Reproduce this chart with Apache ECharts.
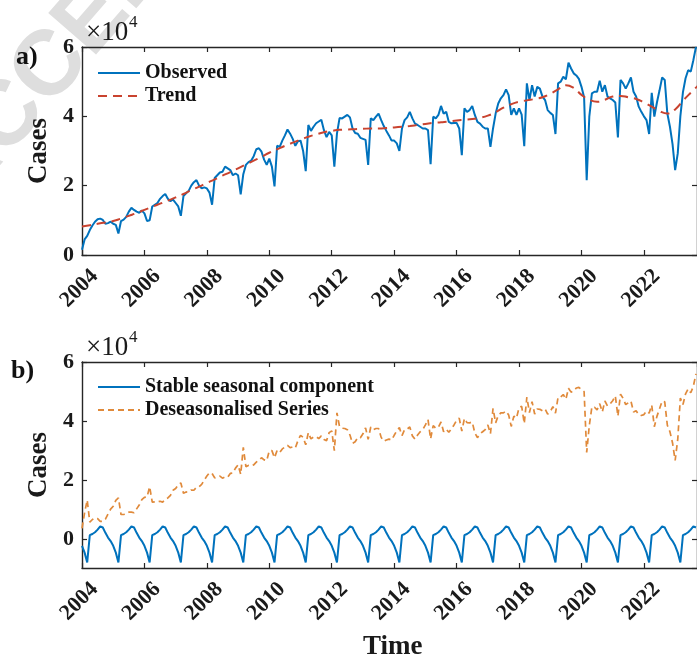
<!DOCTYPE html>
<html><head><meta charset="utf-8">
<script src="https://cdn.jsdelivr.net/npm/echarts@6/dist/echarts.min.js"></script>
<style>html,body{margin:0;padding:0;background:#fff}#c{width:697px;height:661px}</style>
</head><body><div id="c"></div>
<script>
const startYear = 2004;
const xTickLabels = ['2004','2006','2008','2010','2012','2014','2016','2018','2020','2022'];
const yTickLabels = ['0','2','4','6'];
// Observed monthly cases (x10^4), Jan 2004 .. Sep 2023
const observed = [
 0.15,0.45,0.55,0.72,0.85,0.96,1.03,1.05,1.01,0.90,0.92,0.96,
 0.90,0.87,0.62,0.98,1.02,1.10,1.25,1.36,1.30,1.25,1.22,1.28,
 1.20,0.98,1.00,1.40,1.45,1.50,1.62,1.70,1.76,1.62,1.55,1.60,
 1.50,1.40,1.13,1.70,1.78,1.85,2.00,2.10,2.16,2.00,1.92,1.95,
 1.92,1.80,1.45,2.22,2.30,2.38,2.40,2.55,2.50,2.45,2.30,2.35,
 2.30,1.75,2.33,2.60,2.68,2.72,2.85,3.05,3.08,2.98,2.75,2.60,
 2.78,2.55,1.98,3.15,3.12,3.30,3.45,3.62,3.50,3.35,3.15,3.28,
 3.30,3.00,2.42,3.75,3.58,3.70,3.80,3.85,3.90,3.60,3.40,3.55,
 3.45,2.55,3.50,3.95,3.94,3.99,4.04,3.97,3.65,3.52,3.50,3.38,
 3.35,3.32,2.60,3.94,3.89,3.99,4.08,3.89,3.72,3.58,3.45,3.30,
 3.30,3.22,3.00,3.65,3.89,3.97,4.13,3.94,3.79,3.75,3.70,3.65,
 3.65,3.60,2.62,3.99,3.94,4.04,4.30,4.08,4.13,3.84,3.80,3.81,
 3.81,3.65,2.88,4.23,4.13,4.18,4.30,4.04,3.84,3.79,3.70,3.65,
 3.65,3.12,3.65,4.08,4.37,4.52,4.61,4.78,4.61,4.04,4.23,4.04,
 4.23,4.05,3.14,4.95,4.47,4.90,4.57,4.85,4.80,4.57,4.47,4.18,
 4.10,4.04,3.49,4.95,5.00,5.14,5.07,5.55,5.38,5.24,5.18,5.08,
 4.85,4.55,2.16,3.99,4.66,4.71,4.71,5.03,4.71,4.90,4.57,4.52,
 4.47,4.40,3.39,5.05,4.95,4.80,4.95,5.12,4.71,4.57,4.28,4.13,
 4.00,3.89,3.49,4.68,3.99,4.40,4.75,5.12,5.05,4.08,3.70,3.20,
 2.45,2.93,4.00,4.70,5.10,5.33,5.29,5.62,6.00
];
// Deseasonalised series, monthly (x10^4), Jan 2004 .. Sep 2023
const deseasonalised = [
 0.37,0.90,1.33,0.58,0.67,0.72,0.70,0.61,0.61,0.68,0.86,1.02,
 1.12,1.32,1.40,0.84,0.84,0.86,0.92,0.92,0.90,1.03,1.16,1.34,
 1.42,1.43,1.78,1.26,1.27,1.26,1.29,1.26,1.36,1.40,1.49,1.66,
 1.72,1.85,1.91,1.56,1.60,1.61,1.67,1.66,1.76,1.78,1.86,2.01,
 2.14,2.25,2.23,2.08,2.12,2.14,2.07,2.11,2.10,2.23,2.24,2.41,
 2.52,2.20,3.11,2.46,2.50,2.48,2.52,2.61,2.68,2.76,2.69,2.66,
 3.00,3.00,2.76,3.01,2.94,3.06,3.12,3.18,3.10,3.13,3.09,3.34,
 3.52,3.45,3.20,3.61,3.40,3.46,3.47,3.41,3.50,3.38,3.34,3.61,
 3.67,3.00,4.28,3.81,3.76,3.75,3.71,3.53,3.25,3.30,3.44,3.44,
 3.57,3.77,3.38,3.80,3.71,3.75,3.75,3.45,3.32,3.36,3.39,3.36,
 3.52,3.67,3.78,3.51,3.71,3.73,3.80,3.50,3.39,3.53,3.64,3.71,
 3.87,4.05,3.40,3.85,3.76,3.80,3.97,3.64,3.73,3.62,3.74,3.87,
 4.03,4.10,3.66,4.09,3.95,3.94,3.97,3.60,3.44,3.57,3.64,3.71,
 3.87,3.57,4.43,3.94,4.19,4.28,4.28,4.34,4.21,3.82,4.17,4.10,
 4.45,4.50,3.92,4.81,4.29,4.66,4.24,4.41,4.40,4.35,4.41,4.24,
 4.32,4.49,4.27,4.81,4.82,4.90,4.74,5.11,4.98,5.02,5.12,5.14,
 5.07,5.00,2.94,3.85,4.48,4.47,4.38,4.59,4.31,4.68,4.51,4.58,
 4.69,4.85,4.17,4.91,4.77,4.56,4.62,4.68,4.31,4.35,4.22,4.19,
 4.22,4.34,4.27,4.54,3.81,4.16,4.42,4.68,4.65,3.86,3.64,3.26,
 2.67,3.38,4.78,4.56,4.92,5.09,4.96,5.18,5.60
];
// Trend, quarterly (x10^4), 2004.00 .. 2023.75
const trendQuarterly = [
 0.82,0.86,0.90,0.94, 0.98,1.05,1.13,1.21, 1.30,1.39,1.48,1.57, 1.66,1.76,1.87,1.97,
 2.08,2.18,2.29,2.39, 2.50,2.61,2.72,2.83, 2.95,3.05,3.15,3.24, 3.33,3.41,3.48,3.54,
 3.58,3.61,3.62,3.63, 3.64,3.65,3.65,3.66, 3.68,3.70,3.72,3.75, 3.78,3.81,3.83,3.85,
 3.88,3.90,3.92,3.96, 4.02,4.12,4.25,4.35, 4.42,4.46,4.50,4.55, 4.65,4.78,4.90,4.82,
 4.62,4.48,4.42,4.48, 4.57,4.59,4.55,4.50, 4.40,4.28,4.15,4.08, 4.20,4.45,4.68,4.90
];
// Stable seasonal component, Jan..Dec (x10^4), identical every year
const seasonalMonthly = [-0.22,-0.45,-0.78,0.14,0.18,0.24,0.33,0.44,0.40,0.22,0.06,-0.06];

const monthX = i => startYear + i/12;
const obsData = observed.map((v,i)=>[monthX(i), v]);
const deseasData = deseasonalised.map((v,i)=>[monthX(i), v]);
const trendData = trendQuarterly.map((v,i)=>[startYear + i/4, v]);
const seasData = observed.map((_,i)=>[monthX(i), seasonalMonthly[i%12]]);

const FF = 'Liberation Serif';
const AX = '#262626';
const BLUE = '#0072BD', RED = '#C9432F', ORANGE = '#E08A3B';

function xAx(grid, pos){
  return {gridIndex:grid, type:'value', position:pos, min:2004, max:2023.7, interval:2,
    axisLine:{show:true,onZero:false,lineStyle:{color:AX,width:1.4}},
    axisTick:{show:true,inside:true,length:5,lineStyle:{color:AX,width:1.2}},
    splitLine:{show:false},
    axisLabel: pos==='bottom' ? {show:true, rotate:45, fontSize:22, fontWeight:'bold', fontFamily:FF, color:'#1a1a1a',
       margin:15, verticalAlign:'top', padding:[0,-7,0,0], showMaxLabel:false,
       formatter:v=>{const i=(v-2004)/2; return xTickLabels[i]!==undefined && Number.isInteger(i)?xTickLabels[i]:'';}} : {show:false}
  };
}
function yAx(grid, pos, min){
  const o = {gridIndex:grid, type:'value', position:pos, min:min, max:6,
    axisLine:{show:true,onZero:false,lineStyle:{color:AX,width:1.4}},
    axisTick:{show:true,inside:true,length:5,lineStyle:{color:AX,width:1.2}},
    splitLine:{show:false},
    axisLabel: pos==='left' ? {show:true, fontSize:22, fontWeight:'bold', fontFamily:FF, color:'#1a1a1a', margin:8,
       showMinLabel: min===0, formatter:v=>{const i=v/2; return Number.isInteger(i)&&yTickLabels[i]!==undefined?yTickLabels[i]:'';}} : {show:false}
  };
  if (min===0) o.interval = 2; else o.splitNumber = 3;
  if (pos==='left') { o.name='Cases'; o.nameLocation='middle'; o.nameGap=24; o.nameRotate=90;
    o.nameTextStyle={fontSize:27,fontWeight:'bold',fontFamily:FF,color:'#1a1a1a'}; }
  return o;
}

const chart = echarts.init(document.getElementById('c'), null, {renderer:'canvas'});
const legendText = {fontSize:20,fontWeight:'bold',fontFamily:FF,color:'#111',lineHeight:20};
const legendBase = {orient:'vertical', padding:0, itemGap:3, itemWidth:42, itemHeight:20, textStyle:legendText,
  itemStyle:{opacity:0, borderWidth:0}};
chart.setOption({
  backgroundColor:'#fff',
  animation:false,
  grid:[{left:82, top:47, width:615.2, height:208},{left:82, top:362, width:615.2, height:206}],
  xAxis:[xAx(0,'bottom'), xAx(0,'top'), xAx(1,'bottom'), xAx(1,'top')],
  yAxis:[yAx(0,'left',0), yAx(0,'right',0), yAx(1,'left',-0.97), yAx(1,'right',-0.97)],
  legend:[
    Object.assign({left:97, top:63, data:['Observed','Trend']}, legendBase),
    Object.assign({left:97, top:377, data:['Stable seasonal component','Deseasonalised Series']}, legendBase)
  ],
  graphic:[
    {type:'text', x:-58, y:193, rotation:0.855, z:0, zlevel:0,
     style:{text:'ACCEPTED', font:'bold 92px "Liberation Sans"', fill:'#dedede', textVerticalAlign:'middle', textAlign:'left'}},
    {type:'text', left:16, top:44, z:10, style:{text:'a)', font:'bold 26px "Liberation Serif"', fill:'#111'}},
    {type:'text', left:11, top:358, z:10, style:{text:'b)', font:'bold 26px "Liberation Serif"', fill:'#111'}},
    {type:'text', left:86, top:19, z:10, style:{text:'×10', font:'27px "Liberation Serif"', fill:'#1a1a1a'}},
    {type:'text', left:129, top:14, z:10, style:{text:'4', font:'17px "Liberation Serif"', fill:'#1a1a1a'}},
    {type:'text', left:86, top:334, z:10, style:{text:'×10', font:'27px "Liberation Serif"', fill:'#1a1a1a'}},
    {type:'text', left:129, top:329, z:10, style:{text:'4', font:'17px "Liberation Serif"', fill:'#1a1a1a'}},
    {type:'text', left:363, top:634, z:10, style:{text:'Time', font:'bold 27px "Liberation Serif"', fill:'#1a1a1a'}}
  ],
  series:[
    {name:'Observed', type:'line', xAxisIndex:0, yAxisIndex:0, data:obsData, symbol:'none', showSymbol:false,
     lineStyle:{color:BLUE,width:2}, itemStyle:{color:BLUE}, z:3},
    {name:'Trend', type:'line', xAxisIndex:0, yAxisIndex:0, data:trendData, symbol:'none', showSymbol:false, smooth:true,
     lineStyle:{color:RED,width:2,type:[9,6]}, itemStyle:{color:RED}, z:4},
    {name:'Stable seasonal component', type:'line', xAxisIndex:2, yAxisIndex:2, data:seasData, symbol:'none', showSymbol:false,
     lineStyle:{color:BLUE,width:2}, itemStyle:{color:BLUE}, z:3},
    {name:'Deseasonalised Series', type:'line', xAxisIndex:2, yAxisIndex:2, data:deseasData, symbol:'none', showSymbol:false,
     lineStyle:{color:ORANGE,width:1.7,type:[6,4]}, itemStyle:{color:ORANGE}, z:4}
  ]
});
</script></body></html>
